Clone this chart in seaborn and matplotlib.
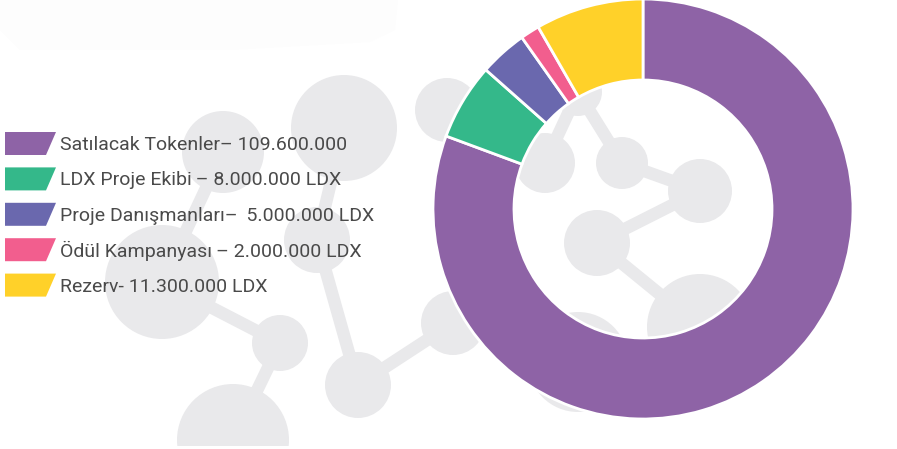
import matplotlib
matplotlib.use("Agg")
import matplotlib.pyplot as plt
from matplotlib.patches import Circle, Polygon
import seaborn as sns

sns.set_theme(style="white")
plt.rcParams['font.family'] = ['Roboto', 'DejaVu Sans']

categories = ["Satılacak Tokenler", "LDX Proje Ekibi", "Proje Danışmanları", "Ödül Kampanyası", "Rezerv"]
values = [109600000, 8000000, 5000000, 2000000, 11300000]
legend_labels = ["Satılacak Tokenler– 109.600.000",
                 "LDX Proje Ekibi\u2009– 8.000.000 LDX",
                 "Proje Danışmanları– \u20095.000.000 LDX",
                 "Ödül Kampanyası\u2009– 2.000.000 LDX",
                 "Rezerv- 11.300.000 LDX"]
colors = ["#8E63A6", "#34B88A", "#6A68AE", "#F25E8E", "#FFD129"]
palette = sns.color_palette(colors)

W, H = 897, 449
fig = plt.figure(figsize=(W/100, H/100), dpi=100, facecolor="white")
ax = fig.add_axes([0, 0, 1, 1])

# faint smudge at the top left
ax.add_patch(Polygon([(0,0),(398,0),(395,30),(370,42),(230,50),(20,50),(0,30)], color="#FDFDFD", lw=0, zorder=0))

# decorative molecule backdrop
GREY = "#E9E9EB"
nodes = {"A": (344,128,53), "B": (223,152,41), "C": (162,282,57), "D": (280,343,28),
         "E": (233,440,56), "F": (317,240,33), "G": (358,385,33), "H": (453,323,32),
         "I": (447,110,32), "J": (622,163,26), "K": (700,191,32), "L": (597,243,33),
         "M": (700,327,53), "N": (545,163,30), "O": (578,362,50), "P": (578,92,24)}
links = ["AF", "FG", "GH", "HO", "CD", "DE", "BC", "JK", "KL", "LM", "JP", "NP", "IP"]
clip = Polygon([(0,0),(W,0),(W,446),(0,446)], transform=ax.transData, fill=False, lw=0)
ax.add_patch(clip)
for x, y, r in nodes.values():
    c = Circle((x, y), r, color=GREY, lw=0, zorder=1)
    ax.add_patch(c); c.set_clip_path(clip)
for a, b in links:
    ax.plot([nodes[a][0], nodes[b][0]], [nodes[a][1], nodes[b][1]], color=GREY, lw=9, zorder=1,
            solid_capstyle="butt")

# donut (the y axis runs downward, so increasing angle reads clockwise on screen)
ax.pie(values, colors=palette, startangle=270, counterclock=True, center=(643, 209), radius=210,
       wedgeprops=dict(width=81, edgecolor="white", linewidth=2), frame=True)

# legend
for i, (lab, col) in enumerate(zip(legend_labels, palette)):
    y0 = 132 + i * 35.4
    ax.add_patch(Polygon([(5, y0), (56, y0), (46, y0+23), (5, y0+23)], color=col, lw=0, zorder=4))
    ax.text(60, y0+13, lab, fontsize=14, color="#4A4A4A", va="center", ha="left", zorder=5)

ax.set_xlim(0, W)
ax.set_ylim(H, 0)
ax.set_aspect("equal")
ax.axis("off")
fig.savefig("out.png", dpi=100, facecolor="white")
